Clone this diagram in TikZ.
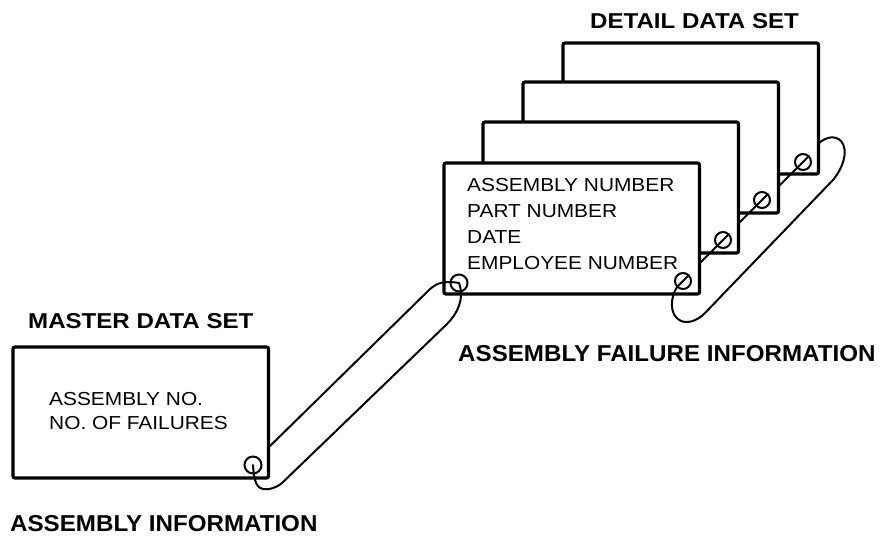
\documentclass[tikz,border=0pt]{standalone}
\usepackage{fontspec}
\setmainfont{Liberation Sans}
\newfontfamily\lblfont{Liberation Sans}[FakeStretch=1.12]
\newfontfamily\bigfont{Liberation Sans}[FakeStretch=1.05]
\newfontfamily\bodyfont{Liberation Sans}[FakeStretch=1.11]
\usetikzlibrary{calc}
\begin{document}
\begin{tikzpicture}[x=1pt, y=-1pt,
  card/.style={draw, line width=3.2pt, fill=white, rounded corners=2pt,
    minimum width=255.5pt, minimum height=131pt, inner sep=0pt, outer sep=0pt, anchor=north west},
  ring/.style={circle, draw, line width=2pt, minimum size=17pt, inner sep=0pt},
  cord/.style={line width=2pt, line cap=round, line join=round},
  title/.style={anchor=base west, inner sep=0pt, font=\lblfont\bfseries\fontsize{21.5pt}{24pt}\selectfont},
  biglabel/.style={anchor=base west, inner sep=0pt, font=\bigfont\bfseries\fontsize{23pt}{26pt}\selectfont},
  field/.style={anchor=base west, inner sep=0pt, font=\bodyfont\fontsize{18.8pt}{22pt}\selectfont}]
\fill[white] (0,0) rectangle (890,536);
\useasboundingbox (0,0) rectangle (890,536);

% detail cards, back to front
\node[card] (d4) at (563,43) {};
\node[card] (d3) at (523,82) {};
\node[card] (d2) at (483,122) {};
\node[card] (d1) at (444,163) {};
% master card
\node[card] (master) at (13,347) {};

% titles and labels
\node[title] (tM) at (28,328) {MASTER DATA SET};
\node[title] (tD) at (590,28) {DETAIL DATA SET};
\node[biglabel] (lA) at (10,531) {ASSEMBLY INFORMATION};
\node[biglabel] (lF) at (458,361) {ASSEMBLY FAILURE INFORMATION};

% fields
\node[field] (m1) at (49,405) {ASSEMBLY NO.};
\node[field] (m2) at (49,429) {NO. OF FAILURES};
\node[field] (f1) at (467,191) {ASSEMBLY NUMBER};
\node[field] (f2) at (467,217) {PART NUMBER};
\node[field] (f3) at (467,243) {DATE};
\node[field] (f4) at (467,269) {EMPLOYEE NUMBER};

% rings
\node[ring] (rM) at (253,465) {};
\node[ring] (rL) at (459,283) {};
\node[ring, minimum size=16pt] (r1) at (683,281) {};
\node[ring, minimum size=16pt] (r2) at (723,240) {};
\node[ring, minimum size=16pt] (r3) at (762,200) {};
\node[ring, minimum size=16pt] (r4) at (803,162) {};

\coordinate (mtop) at (268,448);
\coordinate (dtop) at (819,143);

% cord between master and detail
\draw[cord] (mtop) -- (428,291) .. controls (435,284) and (442,280) .. (rL.center);
\draw[cord] (rM.center) .. controls (254,478) and (255,487) .. (263,489)
  .. controls (269,490) and (276,488) .. (282,483) -- (447,324)
  .. controls (457,314) and (465,299) .. (rL.center);

% cord through detail records
\draw[cord] ($(r1.center)+(6,-6)$) -- ($(r1.center)+(-6,6)$)
  .. controls (671,296) and (668,315) .. (681,321)
  .. controls (689,324) and (698,320) .. (705,313) -- (832,181)
  .. controls (843,169) and (849,150) .. (841,141)
  .. controls (835,135) and (826,137) .. (dtop);
\draw[cord] ($(r2.center)+(-24,24)$) -- ($(r2.center)+(6,-6)$);
\draw[cord] ($(r3.center)+(-24,24)$) -- ($(r3.center)+(6,-6)$);
\draw[cord] ($(r4.center)+(-24,24)$) -- ($(r4.center)+(6,-6)$);
\end{tikzpicture}
\end{document}
